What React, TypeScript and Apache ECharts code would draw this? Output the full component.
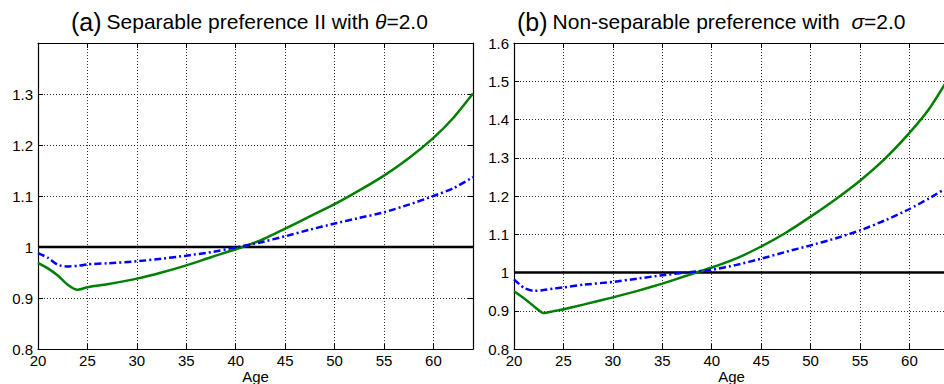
import React, { useEffect, useRef } from "react";
import * as echarts from "echarts";

const ages = [20, 21, 22, 23, 24, 25, 27, 30, 32.5, 35, 37.5, 40, 42.5, 45, 47.5, 50, 52.5, 55, 57.5, 60, 62, 64];

const leftGreen = [0.969, 0.958, 0.944, 0.926, 0.916, 0.921, 0.927, 0.938, 0.95, 0.964, 0.98, 0.9955, 1.013, 1.036, 1.06, 1.084, 1.111, 1.14, 1.174, 1.214, 1.253, 1.301];
const leftBlue = [0.988, 0.979, 0.965, 0.962, 0.963, 0.966, 0.968, 0.972, 0.977, 0.983, 0.99, 0.999, 1.009, 1.021, 1.034, 1.046, 1.057, 1.068, 1.083, 1.1, 1.115, 1.137];

const rightGreen = [0.951, 0.933, 0.912, 0.894, 0.899, 0.904, 0.916, 0.935, 0.952, 0.971, 0.992, 1.013, 1.037, 1.068, 1.104, 1.146, 1.191, 1.24, 1.297, 1.365, 1.428, 1.51];
const rightBlue = [0.982, 0.96, 0.952, 0.954, 0.958, 0.961, 0.968, 0.9755, 0.984, 0.993, 1.0, 1.007, 1.02, 1.036, 1.054, 1.071, 1.089, 1.11, 1.136, 1.166, 1.194, 1.225];

const refLine = [[20, 1], [64, 1]];

const xMin = 20;
const xMax = 64;
const xStep = 5;
const yStep = 0.1;
const leftYMax = 1.4;
const rightYMax = 1.6;
const yMin = 0.8;

const FONT = "'Liberation Sans', Arial, Helvetica, sans-serif";
const GREEN = "#007f00";
const BLUE = "#0000ff";
const GRIDC = "#333";

function pair(xs: number[], ys: number[]) {
  return xs.map((x, i) => [x, ys[i]]);
}

export default function App() {
  const ref = useRef<HTMLDivElement>(null);
  useEffect(() => {
    if (!ref.current) return;
    const chart = echarts.init(ref.current, undefined, { renderer: "svg" });

    const grids = [
      { left: 38, top: 43, width: 435, height: 306 },
      { left: 514, top: 43, width: 435, height: 306 },
    ];

    const splitLine = { show: true, lineStyle: { color: GRIDC, width: 1, type: [1, 2] as any } };
    const axisLine = { show: true, onZero: false, lineStyle: { color: "#000", width: 1.2 } };
    const tick = { show: true, inside: true, length: 5, lineStyle: { color: "#000", width: 1 } };

    const xAxes: any[] = [];
    const yAxes: any[] = [];
    [0, 1].forEach((g) => {
      xAxes.push({
        type: "value",
        gridIndex: g,
        min: xMin,
        max: xMax,
        interval: xStep,
        position: "bottom",
        name: "Age",
        nameLocation: "middle",
        nameGap: 27,
        nameMoveOverlap: false,
        nameTextStyle: { color: "#000", fontFamily: FONT, fontSize: 15, lineHeight: 15, verticalAlign: "middle" },
        axisLine,
        axisTick: tick,
        axisLabel: { color: "#000", fontFamily: FONT, fontSize: 15, margin: 4, showMaxLabel: false },
        splitLine,
      });
      xAxes.push({
        type: "value",
        gridIndex: g,
        min: xMin,
        max: xMax,
        interval: xStep,
        position: "top",
        axisLine,
        axisTick: tick,
        axisLabel: { show: false },
        splitLine: { show: false },
      });
      const yMax = g === 0 ? leftYMax : rightYMax;
      yAxes.push({
        type: "value",
        gridIndex: g,
        min: yMin,
        max: yMax,
        interval: yStep,
        position: "left",
        axisLine,
        axisTick: tick,
        axisLabel: {
          color: "#000",
          fontFamily: FONT,
          fontSize: 15,
          margin: 5,
          showMaxLabel: g === 1,
          formatter: (v: number) => String(Math.round(v * 10) / 10),
        },
        splitLine,
      });
      yAxes.push({
        type: "value",
        gridIndex: g,
        min: yMin,
        max: yMax,
        interval: yStep,
        position: "right",
        axisLine,
        axisTick: tick,
        axisLabel: { show: false },
        splitLine: { show: false },
      });
    });

    const mk = (g: number, data: number[][], color: string, dash: any, width: number, z: number) => ({
      type: "line",
      xAxisIndex: g * 2,
      yAxisIndex: g * 2,
      data,
      showSymbol: false,
      symbol: "none",
      smooth: 0.2,
      z,
      lineStyle: { color, width, type: dash },
    });

    const rich = {
      p: { fontFamily: FONT, fontSize: 25, color: "#000", fontWeight: "normal" },
      b: { fontFamily: FONT, fontSize: 21, color: "#000", fontWeight: "normal" },
      i: { fontFamily: FONT, fontSize: 21, color: "#000", fontStyle: "italic", fontWeight: "normal" },
    };

    chart.setOption({
      animation: false,
      backgroundColor: "#fff",
      title: [
        {
          left: 66,
          top: 4,
          text: "{p|(a)} {b|Separable preference II with }{i|θ}{b|=2.0}",
          textStyle: { fontWeight: "normal", rich },
        },
        {
          left: 512,
          top: 4,
          text: "{p|(b)} {b|Non-separable preference with  }{i|σ}{b|=2.0}",
          textStyle: { fontWeight: "normal", rich },
        },
      ],
      grid: grids.map((g) => ({ ...g, show: false, containLabel: false, outerBoundsMode: "none" })),
      xAxis: xAxes,
      yAxis: yAxes,
      series: [
        { ...mk(0, refLine, "#000", "solid", 2.5, 2), smooth: false },
        mk(0, pair(ages, leftGreen), GREEN, "solid", 2.5, 3),
        mk(0, pair(ages, leftBlue), BLUE, [7, 3, 2, 3], 2.5, 3),
        { ...mk(1, refLine, "#000", "solid", 2.5, 2), smooth: false },
        mk(1, pair(ages, rightGreen), GREEN, "solid", 2.5, 3),
        mk(1, pair(ages, rightBlue), BLUE, [7, 3, 2, 3], 2.5, 3),
      ],
    });
    return () => chart.dispose();
  }, []);
  return <div ref={ref} style={{ position: "absolute", left: 0, top: 0, width: 944, height: 384 }} />;
}
